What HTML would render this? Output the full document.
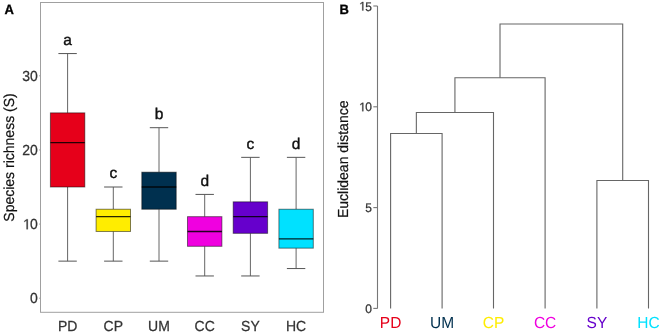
<!DOCTYPE html><html><head><meta charset="utf-8"><style>html,body{margin:0;padding:0;background:#fff;width:668px;height:334px;overflow:hidden}svg{display:block;will-change:transform}text{font-family:"Liberation Sans",sans-serif;text-rendering:geometricPrecision}</style></head><body>
<svg width="668" height="334" viewBox="0 0 668 334">
<text transform="translate(4.500,14.000) scale(1,1.04)" font-size="13" fill="#000" stroke="#000" stroke-width="0.3" font-weight="bold">A</text>
<text transform="translate(339.400,14.000) scale(1,1.04)" font-size="13" fill="#000" stroke="#000" stroke-width="0.3" font-weight="bold">B</text>
<rect x="40.5" y="2.5" width="283" height="309.8" fill="none" stroke="#a0a0a0" stroke-width="1"/>
<line x1="39.1" y1="298.20" x2="40.5" y2="298.20" stroke="#a0a0a0" stroke-width="1"/>
<text transform="translate(30.114,303.400) scale(1,1.04)" font-size="14" fill="#333" stroke="#333" stroke-width="0.25">0</text>
<line x1="39.1" y1="224.07" x2="40.5" y2="224.07" stroke="#a0a0a0" stroke-width="1"/>
<path transform="translate(22.328,229.270) scale(0.006836,-0.007109)" d="M620,0 L620,1230 L300,1010 L300,1180 L640,1409 L800,1409 L800,0 Z" fill="#333" stroke="#333" stroke-width="36.57"/>
<text transform="translate(30.114,229.270) scale(1,1.04)" font-size="14" fill="#333" stroke="#333" stroke-width="0.25">0</text>
<line x1="39.1" y1="149.94" x2="40.5" y2="149.94" stroke="#a0a0a0" stroke-width="1"/>
<text transform="translate(22.328,155.140) scale(1,1.04)" font-size="14" fill="#333" stroke="#333" stroke-width="0.25">2</text>
<text transform="translate(30.114,155.140) scale(1,1.04)" font-size="14" fill="#333" stroke="#333" stroke-width="0.25">0</text>
<line x1="39.1" y1="75.81" x2="40.5" y2="75.81" stroke="#a0a0a0" stroke-width="1"/>
<text transform="translate(22.328,81.010) scale(1,1.04)" font-size="14" fill="#333" stroke="#333" stroke-width="0.25">3</text>
<text transform="translate(30.114,81.010) scale(1,1.04)" font-size="14" fill="#333" stroke="#333" stroke-width="0.25">0</text>
<text transform="translate(13.600,157.500) rotate(-90) scale(1,1.04)" font-size="14" fill="#111" stroke="#111" stroke-width="0.2" text-anchor="middle">Species richness (S)</text>
<line x1="67.60" y1="53.57" x2="67.60" y2="112.87" stroke="#666" stroke-width="1"/>
<line x1="67.60" y1="187.00" x2="67.60" y2="261.13" stroke="#666" stroke-width="1"/>
<line x1="58.40" y1="53.57" x2="76.80" y2="53.57" stroke="#555" stroke-width="1"/>
<line x1="58.40" y1="261.13" x2="76.80" y2="261.13" stroke="#555" stroke-width="1"/>
<rect x="50.40" y="112.87" width="34.40" height="74.13" fill="#e6001a" stroke="#000" stroke-opacity="0.5" stroke-width="1"/>
<line x1="50.40" y1="142.53" x2="84.80" y2="142.53" stroke="#000" stroke-opacity="0.85" stroke-width="1.3"/>
<text transform="translate(67.600,44.771) scale(1,1.0)" font-size="15.5" fill="#111" stroke="#111" stroke-width="0.4" text-anchor="middle">a</text>
<text transform="translate(67.600,330.500) scale(1,1.04)" font-size="14" fill="#333" stroke="#333" stroke-width="0.25" text-anchor="middle">PD</text>
<line x1="113.30" y1="187.00" x2="113.30" y2="209.24" stroke="#666" stroke-width="1"/>
<line x1="113.30" y1="231.48" x2="113.30" y2="261.13" stroke="#666" stroke-width="1"/>
<line x1="104.10" y1="187.00" x2="122.50" y2="187.00" stroke="#555" stroke-width="1"/>
<line x1="104.10" y1="261.13" x2="122.50" y2="261.13" stroke="#555" stroke-width="1"/>
<rect x="96.10" y="209.24" width="34.40" height="22.24" fill="#ffed00" stroke="#000" stroke-opacity="0.5" stroke-width="1"/>
<line x1="96.10" y1="216.66" x2="130.50" y2="216.66" stroke="#000" stroke-opacity="0.85" stroke-width="1.3"/>
<text transform="translate(113.300,178.205) scale(1,1.0)" font-size="15.5" fill="#111" stroke="#111" stroke-width="0.4" text-anchor="middle">c</text>
<text transform="translate(113.300,330.500) scale(1,1.04)" font-size="14" fill="#333" stroke="#333" stroke-width="0.25" text-anchor="middle">CP</text>
<line x1="159.00" y1="127.70" x2="159.00" y2="172.18" stroke="#666" stroke-width="1"/>
<line x1="159.00" y1="209.24" x2="159.00" y2="261.13" stroke="#666" stroke-width="1"/>
<line x1="149.80" y1="127.70" x2="168.20" y2="127.70" stroke="#555" stroke-width="1"/>
<line x1="149.80" y1="261.13" x2="168.20" y2="261.13" stroke="#555" stroke-width="1"/>
<rect x="141.80" y="172.18" width="34.40" height="37.06" fill="#00304f" stroke="#000" stroke-opacity="0.5" stroke-width="1"/>
<line x1="141.80" y1="187.00" x2="176.20" y2="187.00" stroke="#000" stroke-opacity="0.85" stroke-width="1.3"/>
<text transform="translate(159.000,118.901) scale(1,1.0)" font-size="15.5" fill="#111" stroke="#111" stroke-width="0.4" text-anchor="middle">b</text>
<text transform="translate(159.000,330.500) scale(1,1.04)" font-size="14" fill="#333" stroke="#333" stroke-width="0.25" text-anchor="middle">UM</text>
<line x1="204.70" y1="194.42" x2="204.70" y2="216.66" stroke="#666" stroke-width="1"/>
<line x1="204.70" y1="246.31" x2="204.70" y2="275.96" stroke="#666" stroke-width="1"/>
<line x1="195.50" y1="194.42" x2="213.90" y2="194.42" stroke="#555" stroke-width="1"/>
<line x1="195.50" y1="275.96" x2="213.90" y2="275.96" stroke="#555" stroke-width="1"/>
<rect x="187.50" y="216.66" width="34.40" height="29.65" fill="#f000e0" stroke="#000" stroke-opacity="0.5" stroke-width="1"/>
<line x1="187.50" y1="231.48" x2="221.90" y2="231.48" stroke="#000" stroke-opacity="0.85" stroke-width="1.3"/>
<text transform="translate(204.700,185.618) scale(1,1.0)" font-size="15.5" fill="#111" stroke="#111" stroke-width="0.4" text-anchor="middle">d</text>
<text transform="translate(204.700,330.500) scale(1,1.04)" font-size="14" fill="#333" stroke="#333" stroke-width="0.25" text-anchor="middle">CC</text>
<line x1="250.40" y1="157.35" x2="250.40" y2="201.83" stroke="#666" stroke-width="1"/>
<line x1="250.40" y1="233.34" x2="250.40" y2="275.96" stroke="#666" stroke-width="1"/>
<line x1="241.20" y1="157.35" x2="259.60" y2="157.35" stroke="#555" stroke-width="1"/>
<line x1="241.20" y1="275.96" x2="259.60" y2="275.96" stroke="#555" stroke-width="1"/>
<rect x="233.20" y="201.83" width="34.40" height="31.51" fill="#6600cc" stroke="#000" stroke-opacity="0.5" stroke-width="1"/>
<line x1="233.20" y1="216.66" x2="267.60" y2="216.66" stroke="#000" stroke-opacity="0.85" stroke-width="1.3"/>
<text transform="translate(250.400,148.553) scale(1,1.0)" font-size="15.5" fill="#111" stroke="#111" stroke-width="0.4" text-anchor="middle">c</text>
<text transform="translate(250.400,330.500) scale(1,1.04)" font-size="14" fill="#333" stroke="#333" stroke-width="0.25" text-anchor="middle">SY</text>
<line x1="296.10" y1="157.35" x2="296.10" y2="209.24" stroke="#666" stroke-width="1"/>
<line x1="296.10" y1="248.16" x2="296.10" y2="268.55" stroke="#666" stroke-width="1"/>
<line x1="286.90" y1="157.35" x2="305.30" y2="157.35" stroke="#555" stroke-width="1"/>
<line x1="286.90" y1="268.55" x2="305.30" y2="268.55" stroke="#555" stroke-width="1"/>
<rect x="278.90" y="209.24" width="34.40" height="38.92" fill="#00e1ff" stroke="#000" stroke-opacity="0.5" stroke-width="1"/>
<line x1="278.90" y1="238.90" x2="313.30" y2="238.90" stroke="#000" stroke-opacity="0.85" stroke-width="1.3"/>
<text transform="translate(296.100,148.553) scale(1,1.0)" font-size="15.5" fill="#111" stroke="#111" stroke-width="0.4" text-anchor="middle">d</text>
<text transform="translate(296.100,330.500) scale(1,1.04)" font-size="14" fill="#333" stroke="#333" stroke-width="0.25" text-anchor="middle">HC</text>
<line x1="377.5" y1="6.00" x2="377.5" y2="308.40" stroke="#777" stroke-width="1.1"/>
<line x1="373.3" y1="308.40" x2="377.5" y2="308.40" stroke="#777" stroke-width="1.1"/>
<text transform="translate(365.326,312.900) scale(1,1.04)" font-size="12" fill="#333" stroke="#333" stroke-width="0.25">0</text>
<line x1="373.3" y1="207.60" x2="377.5" y2="207.60" stroke="#777" stroke-width="1.1"/>
<text transform="translate(365.326,212.100) scale(1,1.04)" font-size="12" fill="#333" stroke="#333" stroke-width="0.25">5</text>
<line x1="373.3" y1="106.80" x2="377.5" y2="106.80" stroke="#777" stroke-width="1.1"/>
<path transform="translate(358.652,111.300) scale(0.005859,-0.006094)" d="M620,0 L620,1230 L300,1010 L300,1180 L640,1409 L800,1409 L800,0 Z" fill="#333" stroke="#333" stroke-width="42.67"/>
<text transform="translate(365.326,111.300) scale(1,1.04)" font-size="12" fill="#333" stroke="#333" stroke-width="0.25">0</text>
<line x1="373.3" y1="6.00" x2="377.5" y2="6.00" stroke="#777" stroke-width="1.1"/>
<path transform="translate(358.652,10.500) scale(0.005859,-0.006094)" d="M620,0 L620,1230 L300,1010 L300,1180 L640,1409 L800,1409 L800,0 Z" fill="#333" stroke="#333" stroke-width="42.67"/>
<text transform="translate(365.326,10.500) scale(1,1.04)" font-size="12" fill="#333" stroke="#333" stroke-width="0.25">5</text>
<text transform="translate(347.600,159.300) rotate(-90) scale(1,1.04)" font-size="14" fill="#111" stroke="#111" stroke-width="0.2" text-anchor="middle">Euclidean distance</text>
<path d="M390.6,308.40 V133.55 H442.1 V308.40" fill="none" stroke="#666" stroke-width="1.1" stroke-linejoin="miter"/>
<path d="M416.35,133.55 V112.55 H493.5 V308.40" fill="none" stroke="#666" stroke-width="1.1" stroke-linejoin="miter"/>
<path d="M454.93,112.55 V77.8 H545.1 V308.40" fill="none" stroke="#666" stroke-width="1.1" stroke-linejoin="miter"/>
<path d="M596.9,308.40 V180.5 H648.5 V308.40" fill="none" stroke="#666" stroke-width="1.1" stroke-linejoin="miter"/>
<path d="M500.01,77.8 V24.0 H622.70 V180.5" fill="none" stroke="#666" stroke-width="1.1" stroke-linejoin="miter"/>
<text transform="translate(390.600,328.300) scale(1,1.04)" font-size="15.5" fill="#e6001a" text-anchor="middle">PD</text>
<text transform="translate(442.100,328.300) scale(1,1.04)" font-size="15.5" fill="#00304f" text-anchor="middle">UM</text>
<text transform="translate(493.500,328.300) scale(1,1.04)" font-size="15.5" fill="#ffed00" text-anchor="middle">CP</text>
<text transform="translate(545.100,328.300) scale(1,1.04)" font-size="15.5" fill="#f000e0" text-anchor="middle">CC</text>
<text transform="translate(596.900,328.300) scale(1,1.04)" font-size="15.5" fill="#6600cc" text-anchor="middle">SY</text>
<text transform="translate(648.500,328.300) scale(1,1.04)" font-size="15.5" fill="#00e1ff" text-anchor="middle">HC</text>
</svg></body></html>
